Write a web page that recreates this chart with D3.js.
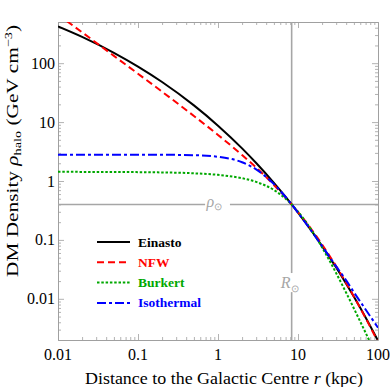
<!DOCTYPE html>
<html>
<head>
<meta charset="utf-8">
<script src="https://cdn.jsdelivr.net/npm/d3@7"></script>
<style>
  body { margin: 0; background: #fff; }
  svg { display: block; }
  text { font-family: "Liberation Serif", "Times New Roman", serif; }
</style>
</head>
<body>
<svg id="chart" width="390" height="387"></svg>
<script>
// radius in kpc, shared by all profiles
const radius = [0.01, 0.02, 0.05, 0.1, 0.2, 0.5, 1, 2, 3, 5, 7, 8.33, 10, 15, 20, 30, 40, 50, 70, 100];

// densities in GeV cm^-3
const einasto = [420, 279, 150, 87.5, 47.9, 19.2, 8.70, 3.58, 2.02, 0.931, 0.538, 0.4, 0.291, 0.138, 0.0785, 0.0339, 0.0180, 0.0108, 0.00483, 0.00195];
const nfw = [668, 334, 133, 66.2, 32.8, 12.7, 6.06, 2.76, 1.69, 0.856, 0.524, 0.4, 0.297, 0.146, 0.0836, 0.0357, 0.0186, 0.0109, 0.00472, 0.00186];
const burkert = [1.43, 1.428, 1.42, 1.414, 1.398, 1.351, 1.271, 1.115, 0.965, 0.703, 0.501, 0.4, 0.303, 0.142, 0.0747, 0.0273, 0.0127, 0.00685, 0.00265, 0.00095];
const isothermal = [2.8, 2.8, 2.8, 2.798, 2.79, 2.741, 2.577, 2.080, 1.574, 0.885, 0.535, 0.4, 0.290, 0.137, 0.0787, 0.0355, 0.0206, 0.0129, 0.00659, 0.00323];

const series = [
  {name: "Einasto", values: einasto, color: "#000000", dash: null, width: 2},
  {name: "NFW", values: nfw, color: "#ff0000", dash: "7,4", width: 2},
  {name: "Burkert", values: burkert, color: "#00a800", dash: "2.5,1.8", width: 2},
  {name: "Isothermal", values: isothermal, color: "#0000ff", dash: "9,3,3,3", width: 2}
];

const rSun = 8.33;
const rhoSun = 0.4;

const xDecades = [0.01, 0.1, 1, 10, 100];
const xLabels = ["0.01", "0.1", "1", "10", "100"];
const yDecades = [0.01, 0.1, 1, 10, 100];
const yLabels = ["0.01", "0.1", "1", "10", "100"];

const svg = d3.select("#chart");
const mLeft = 58, mRight = 378, mTop = 22, mBottom = 340;

const x = d3.scaleLog().domain([0.01, 100]).range([mLeft, mRight]);
const y = d3.scaleLog().domain([0.002, 500]).range([mBottom, mTop]);

const frameColor = "#a0a0a0";

svg.append("defs").append("clipPath").attr("id", "plotClip")
  .append("rect").attr("x", mLeft).attr("y", mTop)
  .attr("width", mRight - mLeft).attr("height", mBottom - mTop);

// minor ticks from the log scale, majors on decades
const xTicks = x.ticks();
const yTicks = y.ticks();
const isMajor = v => Math.abs(Math.log10(v) - Math.round(Math.log10(v))) < 1e-6;

// frame with inward ticks on all four sides
let gb = svg.append("g").attr("transform", `translate(0,${mBottom})`)
  .call(d3.axisBottom(x).tickValues(xTicks).tickSizeInner(-6).tickSizeOuter(0).tickFormat(""));
gb.selectAll(".tick line").attr("y2", d => isMajor(d) ? -6 : -3);
let gt = svg.append("g").attr("transform", `translate(0,${mTop})`)
  .call(d3.axisTop(x).tickValues(xTicks).tickSizeInner(-6).tickSizeOuter(0).tickFormat(""));
gt.selectAll(".tick line").attr("y2", d => isMajor(d) ? 6 : 3);
let gl = svg.append("g").attr("transform", `translate(${mLeft},0)`)
  .call(d3.axisLeft(y).tickValues(yTicks).tickSizeInner(-6).tickSizeOuter(0).tickFormat(""));
gl.selectAll(".tick line").attr("x2", d => isMajor(d) ? 6 : 3);
let gr = svg.append("g").attr("transform", `translate(${mRight},0)`)
  .call(d3.axisRight(y).tickValues(yTicks).tickSizeInner(-6).tickSizeOuter(0).tickFormat(""));
gr.selectAll(".tick line").attr("x2", d => isMajor(d) ? -6 : -3);

[gb, gt, gl, gr].forEach(g => {
  g.select(".domain").attr("stroke", frameColor).attr("stroke-width", 1);
  g.selectAll(".tick line").attr("stroke", frameColor).attr("stroke-width", 0.8);
});

// tick labels
svg.append("g").selectAll("text").data(xDecades).join("text")
  .attr("x", d => x(d)).attr("y", mBottom + 20)
  .attr("text-anchor", "middle").attr("font-size", 16)
  .text((d, i) => xLabels[i]);

svg.append("g").selectAll("text").data(yDecades).join("text")
  .attr("x", mLeft - 3).attr("y", d => y(d) + 5.5)
  .attr("text-anchor", "end").attr("font-size", 16)
  .text((d, i) => yLabels[i]);

// reference lines for the solar position, broken around their labels
const refColor = "#a6a6a6";
svg.append("line").attr("x1", mLeft).attr("x2", x(0.69)).attr("y1", y(rhoSun)).attr("y2", y(rhoSun))
  .attr("stroke", refColor).attr("stroke-width", 1.6);
svg.append("line").attr("x1", x(1.41)).attr("x2", mRight).attr("y1", y(rhoSun)).attr("y2", y(rhoSun))
  .attr("stroke", refColor).attr("stroke-width", 1.6);
svg.append("line").attr("x1", x(rSun)).attr("x2", x(rSun)).attr("y1", mTop).attr("y2", y(0.0274))
  .attr("stroke", refColor).attr("stroke-width", 1.6);
svg.append("line").attr("x1", x(rSun)).attr("x2", x(rSun)).attr("y1", y(0.013)).attr("y2", mBottom)
  .attr("stroke", refColor).attr("stroke-width", 1.6);

const rhoLab = svg.append("text").attr("x", x(0.9)).attr("y", y(rhoSun) + 3)
  .attr("text-anchor", "middle").attr("fill", refColor).attr("font-size", 16);
rhoLab.append("tspan").attr("font-style", "italic").text("ρ");
rhoLab.append("tspan").attr("font-size", 10).attr("dy", 3).text("⊙");

const rLab = svg.append("text").attr("x", x(rSun) - 2).attr("y", y(0.0185) + 5)
  .attr("text-anchor", "middle").attr("fill", refColor).attr("font-size", 16);
rLab.append("tspan").attr("font-style", "italic").text("R");
rLab.append("tspan").attr("font-size", 10).attr("dy", 4).text("⊙");

// profiles
const line = d3.line()
  .x(d => x(d[0]))
  .y(d => y(d[1]))
  .curve(d3.curveMonotoneX);

svg.append("g").attr("clip-path", "url(#plotClip)")
  .selectAll("path").data(series).join("path")
  .attr("d", s => line(radius.map((r, i) => [r, s.values[i]])))
  .attr("fill", "none")
  .attr("stroke", s => s.color)
  .attr("stroke-width", s => s.width)
  .attr("stroke-dasharray", s => s.dash);

// legend
const legend = svg.append("g").attr("transform", "translate(97,242)");
const item = legend.selectAll("g").data(series).join("g")
  .attr("transform", (d, i) => `translate(0,${i * 20.3})`);
item.append("line").attr("x1", 0).attr("x2", 33).attr("y1", 0).attr("y2", 0)
  .attr("stroke", d => d.color).attr("stroke-width", 2)
  .attr("stroke-dasharray", d => d.dash);
item.append("text").attr("x", 41).attr("y", 4.5)
  .attr("font-size", 13.5).attr("font-weight", "bold")
  .attr("fill", d => d.color).text(d => d.name);

// axis titles
const xt = svg.append("text").attr("x", 85).attr("y", 384)
  .attr("font-size", 16.5).attr("textLength", 278).attr("lengthAdjust", "spacingAndGlyphs");
xt.append("tspan").text("Distance to the Galactic Centre ");
xt.append("tspan").attr("font-style", "italic").text("r");
xt.append("tspan").text(" (kpc)");

const yt = svg.append("text").attr("transform", "translate(18,277) rotate(-90)")
  .attr("font-size", 16.5).attr("textLength", 252).attr("lengthAdjust", "spacingAndGlyphs");
yt.append("tspan").text("DM Density ");
yt.append("tspan").attr("font-style", "italic").text("ρ");
yt.append("tspan").attr("font-size", 11).attr("dy", 3).text("halo");
yt.append("tspan").attr("dy", -3).text(" (GeV cm");
yt.append("tspan").attr("font-size", 11).attr("dy", -6).text("−3");
yt.append("tspan").attr("dy", 6).text(")");
</script>
</body>
</html>
